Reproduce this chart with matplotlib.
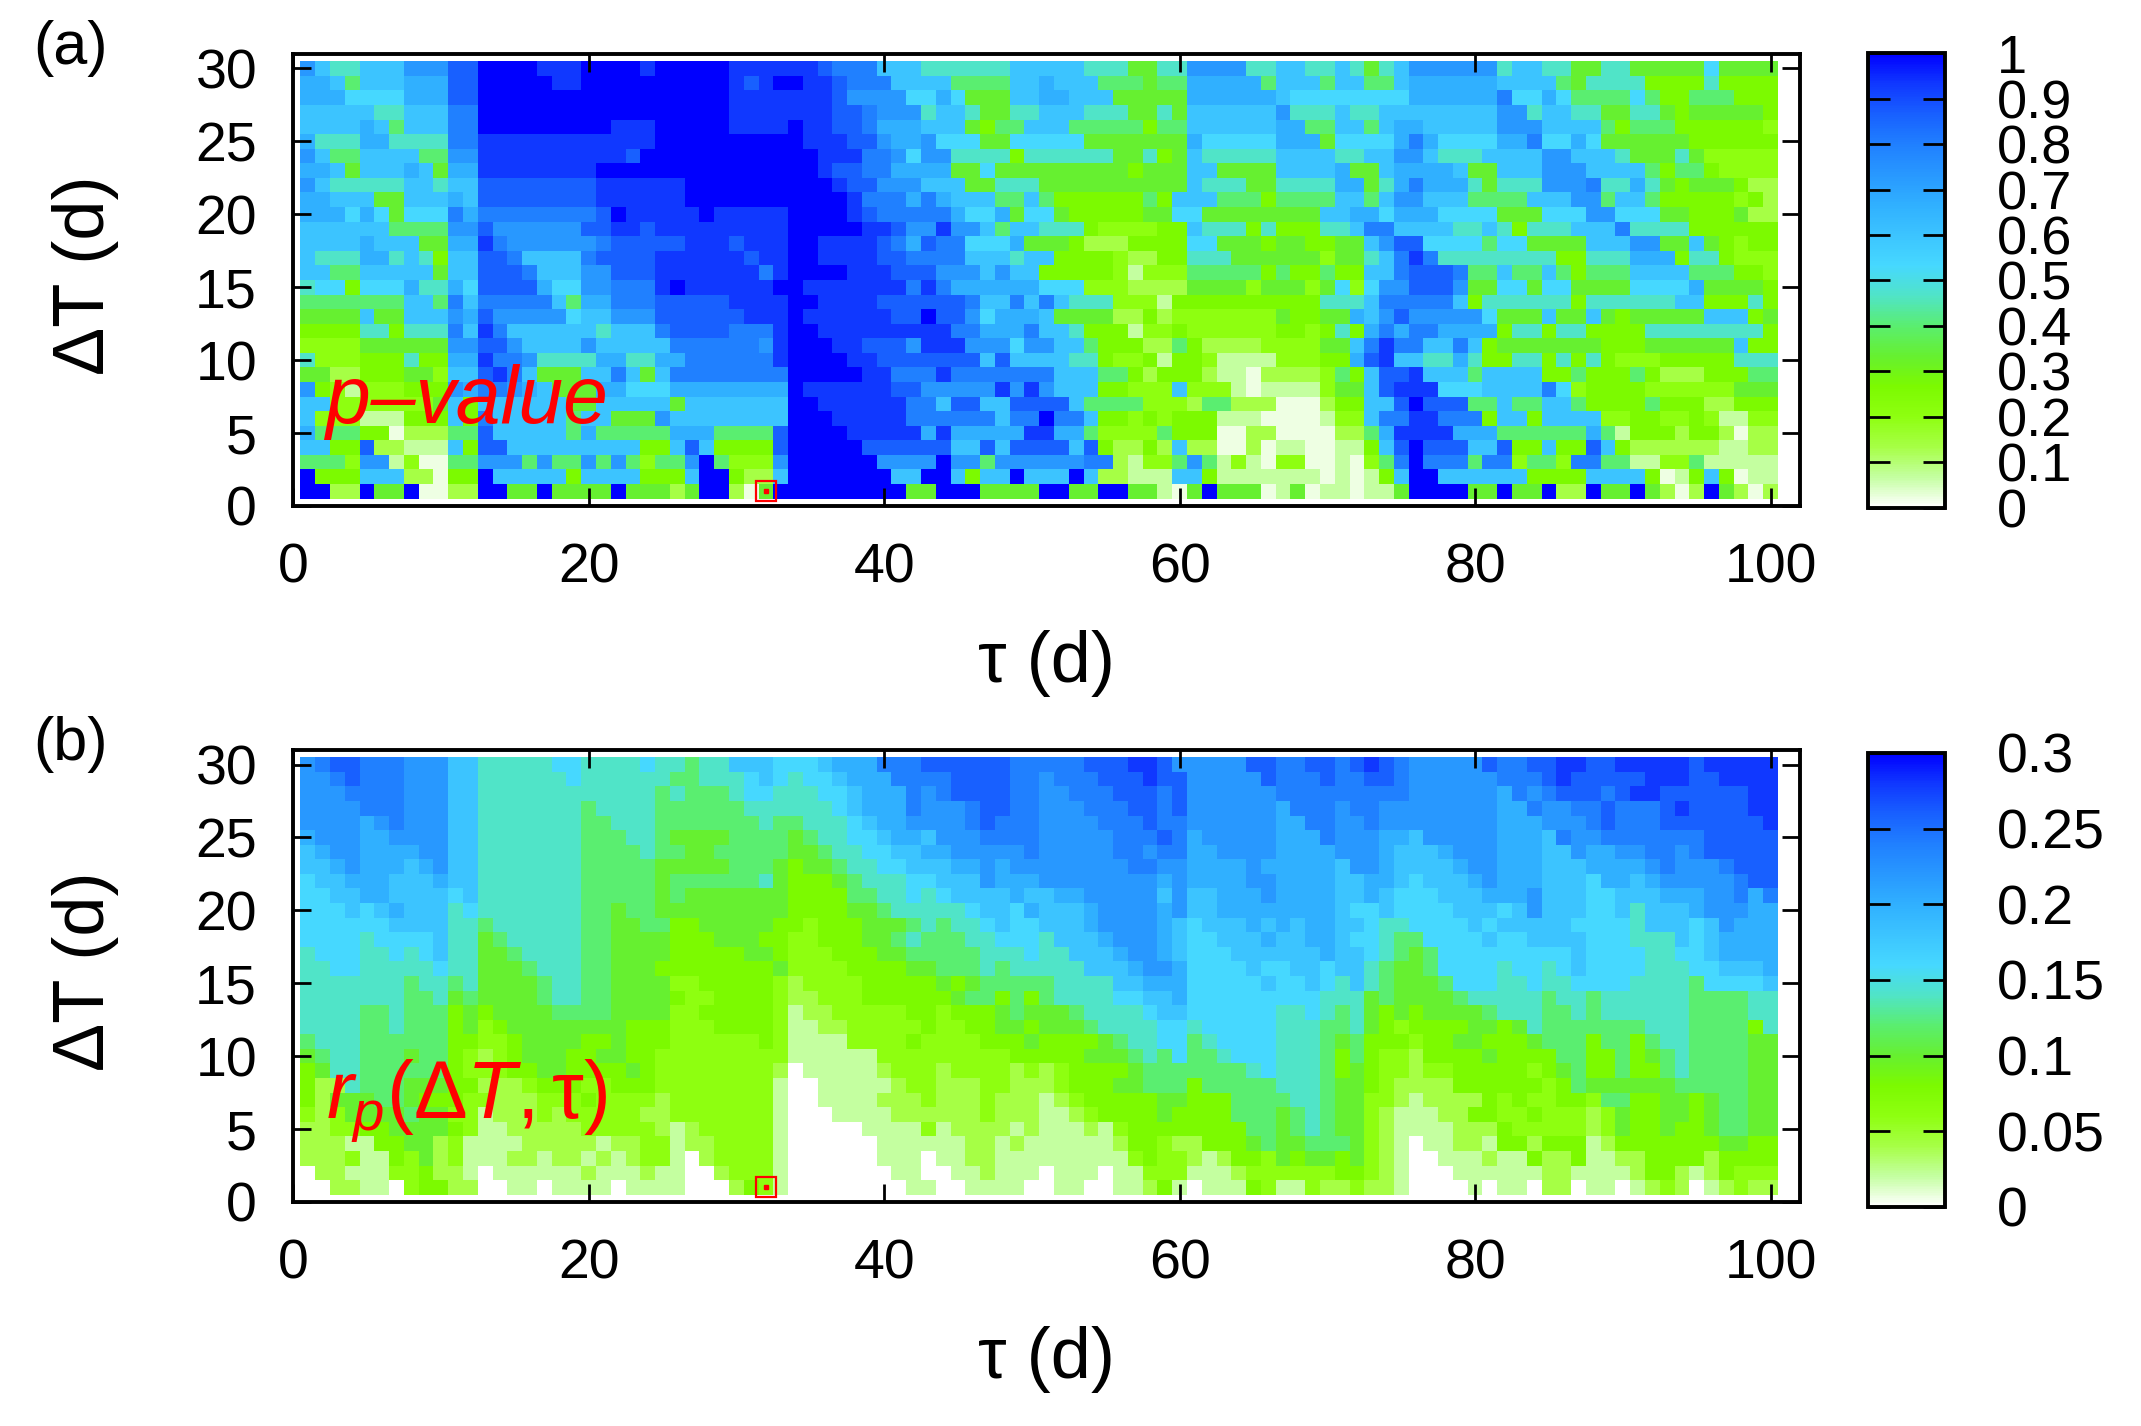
import numpy as np
import matplotlib
matplotlib.use("Agg")
import matplotlib.pyplot as plt
from matplotlib.colors import LinearSegmentedColormap

plt.rcParams['font.family'] = ['Liberation Sans', 'DejaVu Sans']
plt.rcParams['mathtext.fontset'] = 'custom'
plt.rcParams['mathtext.rm'] = 'Liberation Sans'
plt.rcParams['mathtext.it'] = 'Liberation Sans:italic'

# centres of the cells
tau = np.arange(1, 101)        # tau (d)
delta_t = np.arange(1, 31)     # Delta T (d)

# colour level of every cell: 0 = white ... f = deep blue
# one string per row, from Delta T = 30 (top) down to Delta T = 1
# segments: tau 1-33 | tau 34-67 | tau 68-100
pvalue_rows = [
    "b 9 77 999 bbb dd ffff eee ffff e fffff eeee | ee d ccc 999 777777 99999 777 55 77 bbbb 77 9 | 9 77 9 7 5 7 9 bbbbbb 7 99 77 55 77 55555 8 5555",
    "aa 9 6 999 aaa dd fffff ee ffffffffff e d e f | f ee d ccc 9999 6666 99 a 999 666 5 66 aaaaa 6 9 | 99 6 99 66 9 aaaaaa 9999 6 5 7777 4444 7 4444",
    "aaa 8888 aaa dd fffffffffffffffff eeee | eee d bbbb 88 a 8 555 99 aa 999 55555 aaaaaa 9 | 88888888 aaaaaa c 88 a 8 6666 8 6 44 666 444",
    "99999 77 999 cc fffffffffffffffff eeee | eee dd c bbb 7 99 7 55 77 999 777 55 7 5 999999 b | 777 9 77 99999999 bb 7 99 77 55 77 5 4 55555 4",
    "9999 a 9 6 999 cc fffffffff eee fffff eeee | f ee dd c aaa 999 5 4 66 999 66666 4 66 999999 a | a 66 99 6 9 aa 99999 bbb 9999 6 4 666 444444 3",
    "a 777 aa 7777 cc eeeeeeeeeeee fffffffff | f eee dd b aa b 888 55 88888 5555555 a 88888 a | aa 5 8888 a c a 8888 aa c 88 a 8 555555 444444",
    "b 9 66 9999 66 bb eeeeeeeeee d ffffffffff | ff eee cc b 8 bb 7777 4 777777 55 7 4 5 9 77777 9 | 999 77 99 bb 9 777 9999 bb 999 7 555 7 5 33333",
    "aa 9 5 999 a 9 5 aa eeeeeeee fffffffffffff | ff e dd cc aaaa 55 8 555555555 4 555 99 5555 9 | 999 a 55 9 aaaa 9 55 999 bbb 9999 6 4 66 4 3333",
    "b 9 77777 99 7 99 dddddddd eeeeee fffffff | fff e dd bbb 999 55 777 5555555555 9 777 55 7 | 777 aa 5 7 a c aaa 7 5 777 bbb c 77 a 7 5 4 555 4 22",
    "aa 999 55 999 a 9 dddddddd eeeeee fffffff | ffff e ccc a c a 999 66 9 6 444444 6 4 999 666 4 6 | 666 99 6 9 bb 999 6666 999 bb 6 99 6 44444 3 4 2",
    "aaa 8 a 8 5 888 c a cccccccc d f eeeee f eeeee | ffff e d ccccc a 88 a 5 88 5 44444 55 88 555555 | 55 99 aa 8 aaa 8888 555 888 bb 888 55 444 5 22",
    "999999 6666 bb d bbbbbb dd ee d eeeeeeeee | fffff ee d bb e bb 9 6 99 777 4 3333 44 9 777 4 7 4 | 44 77 9 cc 9999 77 9 7 4 777 999 c 7777 444444",
    "9999 a 999 55 aa e c bbbbbb c ddddd eee d eee | ff eeee d c a d cc 888 a 555 4 222 4444 88 555 4 5 | 5 44 55 9 b dd 8888 6 88 5555 999 bb 55 9 5 4 3 44",
    "9 777 aa 7 9 7 4 99 dd c 9999 c dddd eeeeee d ee | ff eeee dd cccc 999 7 99 4444 3 22 44 777 5555 | 55 3 55 7 9 c e c 77777777 44 777 aaa 4 77 4 333",
    "99 66 99999 5 99 ddd c 999 bb ddd eeeeeee c e | ffff eee ddd bbb 9 b 99 44444 3 1 333 66666 4 6 | 44 6 44 99 c ddd c 66 9 66 9 6 4 666 9999 666 44 3",
    "7 88 4 888 a 77 a 8 dddd a 88 bb ccc e f eeeeee f | f eeeeeee c e c aaaaaa 888 333 2222 5555 3 55 | 5 3 5 8 3 8 bb ddd b 55 88 5 88 5555 8888 a 5555 4",
    "6666666 99 6 c 9 ccccc 9 6 aa ccc ddddd eeee | ff eeee dddddd c 99 c 9 c 9 777 333 1 44444444 | 44 777 9 ccccc 9 4 777777 4 777777 99 444 7 4",
    "5555 9 55 999 b a d bbbbb 8 99 bbb dddddd eee | f eeeeee dd f dd b 8 aaa 9 5555 22 4 2 3333333 5 | 44 55 a 9 b d bbbbb 8 555 9 55 9 5 4 55555 999 4 5",
    "4444 77 4 777 c 9 e c 999999 7 999 c dddd ccc e | ff eeeeeeeee cc aaa c 99 7 444 1 33 4 333333 4 | 4 3 4 7 4 a c a cc aaaa 4 77 4 77 4444 77777777 4",
    "3333 555555 bb dd b 9999 b 99999 cccccc b e | fff ee ddd b eee bbb 8 bb 99 6 444 22 6 4 2222 33 | 33 55 9 c e cc 99 c 9 4 5555555 444 555555 9 44",
    "7 333 444 7 44 aa e cc b 7777 aa 77 aa cccccc e | ffff ee ddddddd 9 d 9999 77 4 33 4 1 44 3 1111 3 | 33 44 a d e 99 77 a 7 44 77 4 7 4 7 4 333 44444 777",
    "55 22 444 55 3 99 d e c 9 555 99 c 9 5 9 cccccccc | fffff ee ccc e ccccccc 999 66 4 2 444 2 11 0 22 | 22 3 6 4 9 dd e 999 6 9999 44 6 444 6 4 222 444 66",
    "b 4 3 1 333 444 b a cc b a 9 555 aa 888 aaaaaaaa | f eeeeee dd bbbbb e b e b 999 44 333 9 333 1 0 11 | 11 3 55 9 d eee 888 9999 c 8 3 4444 333333 555",
    "99 3333333 5 9 4 999999 55 99999 5 9999999 | ff eeeeee cc 9 dd 99 dddd 9 6666 333 2 66 222 0 | 00 2 44 99 d f ddd 66 9 66 99 6 4444 6 444 22 444",
    "9 333 111 444 9 4 c 99999 6 99 555 b 99999999 | fff eeeee cccccc 9 cc f cc 9 44 3 4 3 444 111 00 | 00 1 33 9 cc ee ccc 4 99 4 9999 33 44 33 4 3 11 33",
    "a 666 44 0 222 66 d 99999 6 a 66666 aaa 6666 d | ffff eeeee a e aaaaa ee aa 6 3333 6 444 00 22 0 | 000 22 6 a eeee aaa 666666 a 6 1 444 2 44 2 0 22",
    "99 44 d 22 111 9 4 dd 999999999 44 9 d 9 4444 d | fffff dddddd 99 d 9 dddd 9 d 4 22 4 2 9 22 00 2 0 1 | 1 00 11 4 9 d f ddd 99 d 44 9 44 d 9 4 222222 11 22",
    "666 3 bb 1 3 00 66 bbb 6 b 66 b 6 b 6 3 66 b f 6 333 b | ffffff bbbb f bb 6 bbbbbb cc 2 1 33 6 b 6 1 3 1 0 3 | 3 00 1 0 3 6 c f ccc 6 cc 3 66 3 cc 66 11 33 6 11111",
    "f 444 999 22 0 44 f 99999 4 9999 444 9 ff 4 22 9 | fffffff 99 ff 9 4 99 f 999 f 9 22 111 99 4 11111 | 11 0 1 0 1 4 9 ff 999999 4444 9999 4 0 1 4 9 4 0 11",
    "ff 22 f 55 f 00 22 ff 55 f 5555 f 555 2 5 ff 2 0 5 f | ffffffff 55 fff 5555 ff 55 ff 55 1 0 5 f 555 0 1 | 5 0 11 0 11 5 ffff 55 f 55 f 22 f 55 f 5 2 0 2 f 5 2 0 2",
]

rp_rows = [
    "b c dd ccc bbb 99 77777 88 7777 8 77 6 77 999 8 | 88 9 aaa ccc dddddd ccccc ddd ee d bbbbb dd c | c dd c d e d c bbbbb d cc dd ee dd eeeee d eeeee",
    "bb c d ccc bbb 99 777777 8 777777 66 777 8 9 8 | 7 88 9 aaa cccc dddd cc b ccc ddd e dd bbbbb d c | cc d cc dd c bbbbbb ccc d e ddddd eee dd eeee",
    "bbb cccc bbb 99 777777777777 6 7 666 7 88 7 | 77 88 9 aaa c b c dddd cc bb ccc ddd c d bbbbbb c | cccccccc bbbbbb a c b c ddd c d ee dddddd ee",
    "bbbb ccc bbb 99 7777777 6 7777 666666 777 | 777 8 9 aaa c bbb c dd cc bbb ccc dd c d bbbbbb a | ccc b cc bbbbbbbb aa c bb cc d ccc d e dddd ee",
    "bbbb a b c bbb 99 7777777 66 777 6666666 7 6 | 6 777 8 9 aa bbbb c d ccc bbbb ccc d cc bbbbbb a | a cc bb c bbbbbbbb aaa bbb c d ccc ddddddd e",
    "a bbb aa bbbb 99 7777777 666 77 6 5555 6666 | 5 6 77 88 9 aa 9 bbb cccc bbbbb ccc d c a bbbbb a | aa c bbb aa 9 bbbbb aaa 9 c bb ccccccc ddddd",
    "9 a bb aaaa bb 99 7777777 6666 7 66 55 66666 | 55 6 77 88 99 aa bbbbb c bbbbb cc b cc aa bbbb a | aaa bbb a 999 a bbb aaa 99 b aa bb cc b c ddddd",
    "99 a b aaa 9 a b 99 7777777 66666 55555 666 5 | 4 55 6 77 88 999 aa b a bbbbbbbb cc bb aaaa b aa | aaa 9 bb a 9999 a bb aaa 999 aaaa b c bbb c ddd",
    "8 99 aaa 999 a 99 7777777 66666 5 666666 7 5 | 444 5 6 777 88 999 b aaa bbbbbbbb a b aaaa bb a | aaa 99 aa 9 8 999 a b aaa 999 8 aa 9 a bbbbb c dd",
    "88 99 aa 9999 8 9 7777777 66666 5 6 5555555 | 4444 66 77 8 7 8 9999 a 99 aa bbbbb 9 b 99 aaa b a | aaa 99 a 9 888 999 aaa b 999 88 999 aaa bb c a c",
    "888 9 8 9 a 999 7 8 7777777 66 5 66 555555555 | 4444 55 6 77777 8 99 8 a 999 a bbbb a b 99 aaaaa | aaa 9 88 9 8888 999 8 9 b 999 88 9 7 999 a bbb aa",
    "888888 9999 77 6 777777 66 55 66 44 55555 4 | 4 3 444 555 6 7 6 77 8 9 88 999 a bbbb a 9 8 999 a 9 a | 9 aa 99 8 77 8888 9 8 99999 8888 7 999 8 9 b aaa",
    "8888 7 8888 9 77 5 6 77777 66 5555 444 555 44 | 33 444 55 6 7 666 77 888 7 999 a bbb a 9 88 999 a 9 | 9 aa 9 88 7 66 8888 9 88 9999 888 777 9 8 9 aaaa",
    "7 888 77 8 7 8 9 77 55 6 7777 66 5555 44444 55 4 | 333 444 55 66666 777 8 77 999 a bb a 9 888 9999 | 99 a 99 8 7 6 5 6 888888888 9 8888 77 88 9 aaaa",
    "77 88 77777 8 77 555 6 777 66 555 44444444 5 | 3333 4444 55 666 7 6 77777 999 a bb a 8888 9 88 | 99 8 99 7 6 55 6 8888 7 88 7 8 9 8888 777 88 999 a",
    "7777777 6 77 6 7 5555 6 77 66 5555 33 44444 3 | 2 3333 44444 5 4 5 66666 7777 99 aaa 88888 9 8 | 8 9 8 7 9 7 6 555 6 888 77 8 77 8888 7777 6 8888 9",
    "7777777 66 7 5 6 5555 6 77 66 5555 4 33 4444 3 | 22 333 444444 5 66 4 6 4 6 7777 88 99 a 8888888 | 88 777 5 6 5555 6 77777 6 77 6 777777 6666 77",
    "7777 66 7 666 4 5 4 5555 6666 5555 33 44444 3 | 1 22 33333 44 3 444 5 6 555 6 7777 8 99 888888 7 | 7 8 7 6 7 5 4 5 4 5555 6 777 66 7 6 777777 6666 77",
    "7777 66 7 666 4 5 3 4 55555555 444 333 4444 3 | 11 22 33333 4 33 44 55 4 555 6 7777 88 7 88888 7 | 77 66 7 5 4 3 4444 55 4 5 7 6666666 777 6666 4 7",
    "6 777 666666 44 33 4 5555 44 5 444 333333 4 3 | 1111 3333 4 3333 444 5 4444 5 6 77 88 6 7 8888 7 | 77 6 5 6 444 3 44 55 444 5 666 4 66 4 6 77 6666 55",
    "5 6 77 666 5 66 4 3 2 3 4 555 44 55 44 333333333 | 111111 333333333 44444 555 6 7 6 8 66 7 888 7 | 77 6 4 6 4 33 2 4444 5 4444 66 44 6 4 5 6 7 6666 55",
    "4 5 77 666666 4 333 44 55 4444 5 4 33333333 2 | 0 11111 2 333 2 3333 2 3 2 3 4444 5 6666666 7 8 7 | 77 6 4 5 4 33 2 33 44444 3 4 5 6 44 6 44 6 7 6666 55",
    "4 22 7 666 555 44 222 3 444 33 444 33333333 1 | 00 11111 2 33 222 33 222 3 444 55 666 4 66666 7 | 77 6 55 4 3 2222 444444 3 4 6 555555 66666 55",
    "4 2 555 66 5 444 33 222 333 4 3333 2 3333333 1 | 00 1111 222 3 222 3 222 1 2 3 44444 55 444 6666 | 77 6 55 33 2 1 2222 4 3 4 33 44 3 66 44 55 4 5 66 55",
    "3 2 3 5555 6 55 33 1 222 3 2 33333 22 3333333 1 | 000 1111 222222 3 222 11 2 3 4444 5 4444 666 5 | 6 7 6 55 3 2 111 22 44 33 4 333 2 3 5 44 55 4 5 66 55",
    "22 33 44 5555 4 3 11 22222 33333 2 1 2 33333 1 | 00000 1111 3 1 2222 1 2 111 2 1 3 44444444 66 5 | 6 7 6 55 3 2 1111 222 4 33333 2 3 5 44 5 44 5 66 55",
    "222 11 44 55 2 3 1111 22222 1 22 33 1 22 3333 1 | 000000 111111 22 1 2 111111 2 44 3 22 444 5 6 5 | 5 666 5 3 2 1 0 11 22 1 44 2 444 1 2 4444444 55 44",
    "222 3 11 4 3 5 2 3 111 22 1 22 1 2 1 2 33 1 0 2 3333 1 | 000000 111 0 11 22 111111111 3 4 33 2 1 2 44 3 5 | 4 55 4 5 3 2 1 00 111 2 11 4 22 4 11 22 4444 2 4444",
    "0 22 111 33 4 22 1 0 111111 2 111 2 11 00 2 333 1 | 0000000 11 00 11 2 111 0 111 0 11 333 111 2 333 | 333 44 3 2 1 000 111111 22 1111 2 44 2 1 2 4 333",
    "00 22 11 0 3 44 22 00 11 0 1111 0 1111 000 2 4 3 1 | 00000000 11 00 1111 00 11 00 11 2 4 1 0 111 4 3 1 | 1 3 22 3 22 1 0000 1 0 11 0 22 0 11 0 1 2 3 2 0 1 2 3 22",
]

# value of each colour level
pvalue_levels = [0.02] + [k / 15.0 for k in range(1, 16)]
rp_levels = [0.02 * k for k in range(16)]

# the marked cell (best lag) in both panels
best_tau = [32]
best_dt = [1]

# palette: white -> green -> cyan -> blue
level_colors = ["#ffffff", "#c4ffa0", "#a6ff45", "#8eff10", "#7cfa00", "#66f030",
                "#5aee70", "#50e4c8", "#46d8ff", "#3cc4ff", "#30b0ff", "#2898ff",
                "#2080ff", "#1860ff", "#1038ff", "#0000ff"]
cmap = LinearSegmentedColormap.from_list("wgcb", level_colors)

SEG = (33, 34, 33)


def decode(rows, levels):
    grid = []
    for row in rows:
        cells = []
        for seg, n in zip(row.split("|"), SEG):
            s = seg.replace(" ", "")
            s = (s + s[-1] * n)[:n]
            cells += [levels[int(c, 16)] for c in s]
        grid.append(cells)
    return np.array(grid[::-1])   # bottom row (Delta T = 1) first


pvalue = decode(pvalue_rows, pvalue_levels)
rp = decode(rp_rows, rp_levels)

fig = plt.figure(figsize=(21.41, 14.26), dpi=100)

panels = [
    (pvalue, 1.0, np.round(np.arange(0, 1.01, 0.1), 1),
     ["0", "0.1", "0.2", "0.3", "0.4", "0.5", "0.6", "0.7", "0.8", "0.9", "1"], 39,
     "p\u2013value", "(a)", [0.1369, 0.6452, 0.7039, 0.3170], [0.8725, 0.6438, 0.036, 0.3190]),
    (rp, 0.3, [0, 0.05, 0.1, 0.15, 0.2, 0.25, 0.3],
     ["0", "0.05", "0.1", "0.15", "0.2", "0.25", "0.3"], 40,
     r"$r_p(\Delta T,\mathrm{\tau})$", "(b)", [0.1369, 0.1571, 0.7039, 0.3170], [0.8725, 0.1536, 0.036, 0.3184]),
]

for z, vmax, cticks, clabels, csize, name, tag, box, cbox in panels:
    ax = fig.add_axes(box)
    mesh = ax.pcolormesh(tau, delta_t, z, shading="nearest", cmap=cmap,
                         vmin=0, vmax=vmax, antialiased=False, edgecolors="none")
    ax.set_xlim(0, 102)
    ax.set_ylim(0, 31)
    ax.set_xticks(range(0, 101, 20))
    ax.set_yticks(range(0, 31, 5))
    ax.tick_params(direction="in", length=13, width=2, top=True, right=True,
                   labelsize=40, pad=26)
    for sp in ax.spines.values():
        sp.set_linewidth(2.8)
    ax.set_xlabel("\u03c4 (d)", fontsize=52)
    ax.set_ylabel("\u0394T (d)", fontsize=52)
    ax.xaxis.set_label_coords(0.5, -0.348)
    ax.xaxis.label.set_va("center")
    ax.yaxis.set_label_coords(-0.138, 0.51)
    ax.yaxis.label.set_va("center")

    ax.plot(best_tau, best_dt, marker="s", ms=14, mfc="none", mec="red", mew=1.6, ls="none")
    ax.plot(best_tau, best_dt, marker="s", ms=2.5, mfc="red", mec="red", ls="none")

    ax.text(2.2, 5.7, name, color="red", fontsize=58, style="italic", va="baseline")

    pos = ax.get_position()
    fig.text(0.033, pos.y1 + 0.004, tag, fontsize=44, ha="center", va="center")

    cax = fig.add_axes(cbox)
    cb = fig.colorbar(mesh, cax=cax)
    cb.set_ticks(cticks)
    cb.set_ticklabels(clabels)
    cb.outline.set_linewidth(2.8)
    cax.tick_params(direction="in", length=16, width=2, left=True, right=True,
                    labelsize=csize, pad=37)

fig.savefig("out.png", dpi=100)
